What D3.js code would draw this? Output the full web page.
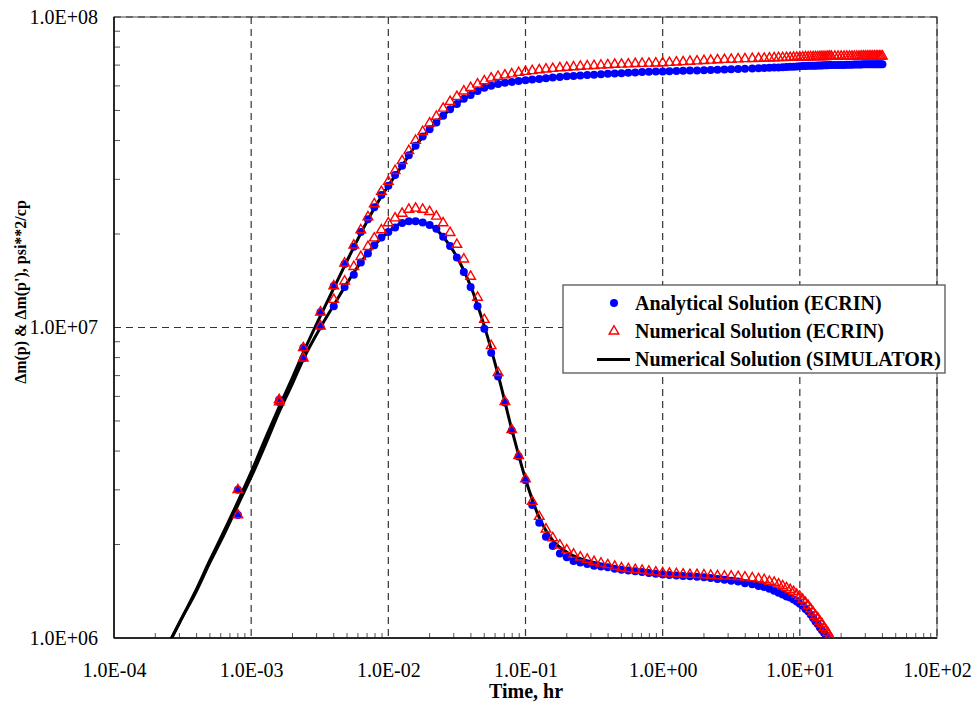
<!DOCTYPE html>
<html>
<head>
<meta charset="utf-8">
<script src="https://cdn.jsdelivr.net/npm/d3@7"></script>
<style>
body { margin: 0; background: #fff; }
</style>
</head>
<body>
<svg id="chart" width="978" height="706"></svg>
<script>
// values in millions of psi**2/cp, time in hours
var UNIT = 1e6;

var hours = [
    0.0008, 0.0016, 0.0024, 0.0032, 0.004, 0.0048, 0.0056, 0.0063, 0.0071, 0.0079, 0.0089,
    0.01, 0.0112, 0.0126, 0.0141, 0.0158, 0.0178, 0.02, 0.0224, 0.0251, 0.0282,
    0.0316, 0.0355, 0.0398, 0.0447, 0.0501, 0.0562, 0.0631, 0.0708, 0.0794, 0.0891,
    0.1, 0.112, 0.126, 0.141, 0.158, 0.178, 0.2, 0.224, 0.251, 0.282,
    0.316, 0.355, 0.398, 0.447, 0.501, 0.562, 0.631, 0.708, 0.794, 0.891,
    1, 1.12, 1.26, 1.41, 1.58, 1.78, 2, 2.24, 2.51, 2.82, 3.16, 3.55, 3.98,
    4.5, 5, 5.5, 6, 6.5, 7, 7.5, 8, 8.5, 9, 9.5, 10, 10.5, 11, 11.5, 12, 12.5,
    13, 13.5, 14, 14.5, 15, 15.5, 16, 16.5, 17,
    18, 19, 20, 21, 22, 23, 24, 25, 26, 27, 28, 29, 30, 31, 32, 33, 34, 35, 36, 37, 38, 39, 40
];

var pressureAnalytical = [
    3.0, 5.85, 8.6, 11.2, 13.6, 16.0, 18.2, 20.3, 22.3, 24.4, 26.7,
    28.6, 31.0, 33.2, 35.9, 38.5, 41.2, 43.5, 45.7, 48.1, 50.5,
    52.5, 54.5, 56.1, 57.8, 59.2, 60.1, 60.8, 61.4, 61.8, 62.2,
    62.6, 62.9, 63.2, 63.5, 63.8, 64.1, 64.4, 64.6, 64.8, 65.0,
    65.2, 65.4, 65.6, 65.8, 65.9, 66.1, 66.3, 66.5, 66.6, 66.7,
    66.8, 66.9, 67.0, 67.1, 67.2, 67.3, 67.4, 67.5, 67.6, 67.8, 67.9, 68.0, 68.1,
    68.2, 68.4, 68.5, 68.6, 68.7, 68.8, 68.9, 69.0, 69.1, 69.2, 69.3, 69.4, 69.5, 69.5, 69.6, 69.6, 69.7,
    69.7, 69.8, 69.8, 69.8, 69.9, 69.9, 69.9, 70.0, 70.0,
    70.0, 70.1, 70.1, 70.1, 70.2, 70.2, 70.2, 70.3, 70.3, 70.3, 70.3, 70.4, 70.4, 70.4, 70.4, 70.4,
    70.5, 70.5, 70.5, 70.5, 70.5, 70.5, 70.5
];

var pressureNumerical = [
    3.0, 5.85, 8.6, 11.2, 13.6, 16.1, 18.4, 20.6, 22.7, 25.0, 27.4,
    29.5, 32.0, 34.4, 37.1, 40.0, 42.7, 45.5, 47.8, 50.8, 53.4,
    55.4, 57.7, 59.2, 60.8, 62.2, 63.5, 64.3, 65.0, 65.5, 66.2,
    66.7, 67.1, 67.5, 67.9, 68.2, 68.5, 68.8, 69.0, 69.3, 69.5,
    69.7, 69.9, 70.1, 70.3, 70.4, 70.5, 70.7, 70.8, 70.9, 71.0,
    71.1, 71.3, 71.5, 71.7, 71.9, 72.1, 72.3, 72.5, 72.7, 72.9, 73.0, 73.2, 73.3,
    73.4, 73.5, 73.6, 73.7, 73.8, 73.9, 73.9, 74.0, 74.0, 74.1, 74.1, 74.2, 74.2, 74.3, 74.3, 74.3, 74.4,
    74.4, 74.4, 74.5, 74.5, 74.5, 74.5, 74.6, 74.6, 74.6,
    74.6, 74.6, 74.6, 74.7, 74.7, 74.7, 74.7, 74.7, 74.7, 74.7, 74.8, 74.8, 74.8, 74.8, 74.8, 74.8,
    74.8, 74.8, 74.8, 74.8, 74.8, 74.8, 74.8
];

var derivativeAnalytical = [
    2.49, 5.75, 7.96, 10.1, 11.7, 13.5, 14.8, 16.2, 17.3, 18.4, 19.5,
    20.3, 21.0, 21.7, 22.0, 22.0, 21.8, 21.4, 20.8, 19.6, 18.3,
    16.8, 15.1, 13.5, 11.7, 9.9, 8.3, 6.95, 5.73, 4.66, 3.84,
    3.22, 2.68, 2.35, 2.12, 1.98, 1.87, 1.82, 1.77, 1.75, 1.73,
    1.71, 1.70, 1.69, 1.67, 1.66, 1.65, 1.64, 1.63, 1.62, 1.61,
    1.60, 1.595, 1.59, 1.585, 1.58, 1.575, 1.57, 1.56, 1.55, 1.54, 1.53, 1.52, 1.50,
    1.49, 1.47, 1.46, 1.44, 1.42, 1.40, 1.38, 1.36, 1.35, 1.33, 1.31, 1.29, 1.27, 1.24, 1.22, 1.19, 1.16,
    1.13, 1.11, 1.08, 1.06, 1.04, 1.02, 1.00, 0.98, 0.96
];

var derivativeNumerical = [
    2.49, 5.75, 7.96, 10.1, 12.3, 14.1, 15.7, 16.9, 18.2, 19.4, 20.6,
    21.7, 22.5, 23.3, 24.0, 24.2, 24.0, 23.6, 22.8, 21.7, 20.2,
    18.5, 16.6, 14.6, 12.5, 10.6, 8.73, 7.15, 5.77, 4.68, 3.86,
    3.25, 2.75, 2.46, 2.24, 2.10, 1.99, 1.92, 1.86, 1.82, 1.79,
    1.76, 1.74, 1.72, 1.70, 1.68, 1.67, 1.66, 1.65, 1.64, 1.63,
    1.62, 1.615, 1.61, 1.605, 1.60, 1.60, 1.595, 1.59, 1.585, 1.58, 1.58, 1.575, 1.57,
    1.56, 1.55, 1.54, 1.52, 1.51, 1.49, 1.47, 1.45, 1.43, 1.41, 1.38, 1.36, 1.33, 1.30, 1.27, 1.24, 1.21,
    1.18, 1.16, 1.13, 1.11, 1.08, 1.06, 1.04, 1.01, 0.99
];

var simHours = [
    0.00026, 0.0003, 0.0004, 0.0005, 0.0006, 0.0008, 0.001, 0.0013, 0.0016, 0.002,
    0.0024, 0.0032, 0.004, 0.005, 0.0063, 0.0079, 0.01, 0.0126, 0.0158, 0.02,
    0.0251, 0.0316, 0.0398, 0.0501, 0.0631, 0.0794, 0.1, 0.126, 0.158, 0.2,
    0.251, 0.316, 0.398, 0.501, 0.631, 0.794, 1, 1.58, 2.51, 3.98,
    5, 6.3, 7.9, 10, 12, 14, 16, 17, 20, 30, 40
];

var simPressure = [
    0.99, 1.12, 1.44, 1.78, 2.10, 2.75, 3.42, 4.5, 5.55, 6.9,
    8.3, 10.9, 13.4, 16.4, 20.1, 24.2, 28.6, 33.2, 38.5, 43.5,
    48.1, 52.5, 56.1, 59.2, 60.8, 61.8, 62.6, 63.2, 63.8, 64.4,
    64.8, 65.2, 65.6, 65.9, 66.3, 66.6, 66.8, 67.2, 67.6, 68.1,
    68.4, 68.6, 69.0, 69.4, 69.6, 69.8, 69.9, 70.0, 70.1, 70.3, 70.5
];

var simDerivative = [
    0.99, 1.12, 1.42, 1.75, 2.05, 2.68, 3.3, 4.3, 5.35, 6.6,
    7.9, 10.0, 11.8, 13.9, 16.2, 18.4, 20.3, 21.7, 22.0, 21.4,
    19.6, 16.9, 13.6, 10.1, 7.05, 4.7, 3.25, 2.44, 2.06, 1.89,
    1.80, 1.75, 1.71, 1.68, 1.66, 1.64, 1.62, 1.595, 1.57, 1.53,
    1.49, 1.44, 1.37, 1.29, 1.19, 1.08, 0.99, 0.95
];

var xTicks = [1e-4, 1e-3, 1e-2, 1e-1, 1e0, 1e1, 1e2];
var xTickLabels = ["1.0E-04", "1.0E-03", "1.0E-02", "1.0E-01", "1.0E+00", "1.0E+01", "1.0E+02"];
var yTicks = [1e6, 1e7, 1e8];
var yTickLabels = ["1.0E+06", "1.0E+07", "1.0E+08"];

var legendNames = ["Analytical Solution (ECRIN)", "Numerical Solution (ECRIN)", "Numerical Solution (SIMULATOR)"];

var serif = "'Liberation Serif', 'Times New Roman', serif";

var plotLeft = 114,
    plotRight = 937,
    plotTop = 17,
    plotBottom = 638;

var x = d3.scaleLog().domain([1e-4, 1e2]).range([plotLeft, plotRight]);
var y = d3.scaleLog().domain([1e6, 1e8]).range([plotBottom, plotTop]);

var svg = d3.select("#chart");

svg.append("defs").append("clipPath")
    .attr("id", "plotClip")
    .append("rect")
    .attr("x", plotLeft)
    .attr("y", plotTop)
    .attr("width", plotRight - plotLeft)
    .attr("height", plotBottom - plotTop);

// minor ticks
var xMinor = [];
xTicks.slice(0, -1).forEach(function (d) {
    for (var k = 2; k < 10; k++) xMinor.push(d * k);
});
var yMinor = [];
yTicks.slice(0, -1).forEach(function (d) {
    for (var k = 2; k < 10; k++) yMinor.push(d * k);
});

svg.append("g").selectAll("line")
    .data(xMinor)
    .join("line")
    .attr("x1", function (d) { return x(d); })
    .attr("x2", function (d) { return x(d); })
    .attr("y1", plotBottom)
    .attr("y2", plotBottom - 5)
    .style("stroke", "#555")
    .style("stroke-width", 1);

svg.append("g").selectAll("line")
    .data(yMinor)
    .join("line")
    .attr("x1", plotLeft)
    .attr("x2", plotLeft + 6)
    .attr("y1", function (d) { return y(d); })
    .attr("y2", function (d) { return y(d); })
    .style("stroke", "#555")
    .style("stroke-width", 1);

// plot frame
svg.append("rect")
    .attr("x", plotLeft)
    .attr("y", plotTop)
    .attr("width", plotRight - plotLeft)
    .attr("height", plotBottom - plotTop)
    .style("fill", "none")
    .style("stroke", "#666")
    .style("stroke-width", 1.2);

// dashed grid
svg.append("g").selectAll("line")
    .data(xTicks.slice(1))
    .join("line")
    .attr("x1", function (d) { return x(d); })
    .attr("x2", function (d) { return x(d); })
    .attr("y1", plotTop)
    .attr("y2", plotBottom)
    .style("stroke", "#333")
    .style("stroke-width", 1.2)
    .style("stroke-dasharray", "7,5");

svg.append("g").selectAll("line")
    .data(yTicks.slice(1))
    .join("line")
    .attr("x1", plotLeft)
    .attr("x2", plotRight)
    .attr("y1", function (d) { return y(d); })
    .attr("y2", function (d) { return y(d); })
    .style("stroke", "#333")
    .style("stroke-width", 1.2)
    .style("stroke-dasharray", "7,5");

// axes
var xAxis = svg.append("g")
    .attr("transform", "translate(0," + plotBottom + ")")
    .call(d3.axisBottom(x)
        .tickValues(xTicks)
        .tickFormat(function (d, i) { return xTickLabels[i]; })
        .tickSize(0)
        .tickPadding(25));

var yAxis = svg.append("g")
    .attr("transform", "translate(" + plotLeft + ",0)")
    .call(d3.axisLeft(y)
        .tickValues(yTicks)
        .tickFormat(function (d, i) { return yTickLabels[i]; })
        .tickSize(0)
        .tickPadding(16));

[xAxis, yAxis].forEach(function (g) {
    g.select(".domain").remove();
    g.attr("font-family", serif)
        .attr("font-size", 20);
    g.selectAll("text").style("fill", "#000");
});

svg.append("line")
    .attr("x1", plotLeft).attr("x2", plotRight)
    .attr("y1", plotBottom).attr("y2", plotBottom)
    .style("stroke", "#000").style("stroke-width", 1.5);

svg.append("line")
    .attr("x1", plotLeft).attr("x2", plotLeft)
    .attr("y1", plotTop).attr("y2", plotBottom)
    .style("stroke", "#000").style("stroke-width", 1.5);

// data
var data = svg.append("g").attr("clip-path", "url(#plotClip)");

function pairs(times, values) {
    return values.map(function (v, i) {
        return { t: times[i], v: v * UNIT };
    });
}

var simLine = d3.line()
    .x(function (d) { return x(d.t); })
    .y(function (d) { return y(d.v); })
    .curve(d3.curveMonotoneX);

[simPressure, simDerivative].forEach(function (series) {
    data.append("path")
        .attr("d", simLine(pairs(simHours, series)))
        .style("fill", "none")
        .style("stroke", "#000")
        .style("stroke-width", 3);
});

[pressureAnalytical, derivativeAnalytical].forEach(function (series) {
    data.append("g").selectAll("circle")
        .data(pairs(hours, series))
        .join("circle")
        .attr("cx", function (d) { return x(d.t); })
        .attr("cy", function (d) { return y(d.v); })
        .attr("r", 4)
        .style("fill", "#0000ff");
});

var triangle = d3.symbol().type(d3.symbolTriangle).size(40);

[pressureNumerical, derivativeNumerical].forEach(function (series) {
    data.append("g").selectAll("path")
        .data(pairs(hours, series))
        .join("path")
        .attr("d", triangle)
        .attr("transform", function (d) {
            return "translate(" + x(d.t) + "," + y(d.v) + ")";
        })
        .style("fill", "none")
        .style("stroke", "#ff0000")
        .style("stroke-width", 1.4);
});

// axis titles
svg.append("text")
    .attr("x", 526)
    .attr("y", 698)
    .attr("text-anchor", "middle")
    .style("font-family", serif)
    .style("font-weight", "bold")
    .style("font-size", "20px")
    .text("Time, hr");

svg.append("text")
    .attr("transform", "translate(26,292) rotate(-90)")
    .attr("text-anchor", "middle")
    .style("font-family", serif)
    .style("font-weight", "bold")
    .style("font-size", "16px")
    .text("\u0394m(p) & \u0394m(p'), psi**2/cp");

// legend
var legend = svg.append("g");

legend.append("rect")
    .attr("x", 563)
    .attr("y", 285)
    .attr("width", 382)
    .attr("height", 88)
    .style("fill", "#fff")
    .style("stroke", "#555")
    .style("stroke-width", 1.3);

var rows = legend.selectAll(".row")
    .data(legendNames)
    .join("g")
    .attr("class", "row")
    .attr("transform", function (d, i) {
        return "translate(0," + (303 + i * 28.3) + ")";
    });

rows.append("text")
    .attr("x", 635)
    .attr("dy", "0.33em")
    .style("font-family", serif)
    .style("font-weight", "bold")
    .style("font-size", "20px")
    .text(function (d) { return d; });

rows.filter(function (d, i) { return i == 0; })
    .append("circle")
    .attr("cx", 614)
    .attr("r", 4)
    .style("fill", "#0000ff");

rows.filter(function (d, i) { return i == 1; })
    .append("path")
    .attr("d", triangle)
    .attr("transform", "translate(614,0)")
    .style("fill", "none")
    .style("stroke", "#ff0000")
    .style("stroke-width", 1.4);

rows.filter(function (d, i) { return i == 2; })
    .append("line")
    .attr("x1", 597)
    .attr("x2", 630)
    .style("stroke", "#000")
    .style("stroke-width", 3);
</script>
</body>
</html>
